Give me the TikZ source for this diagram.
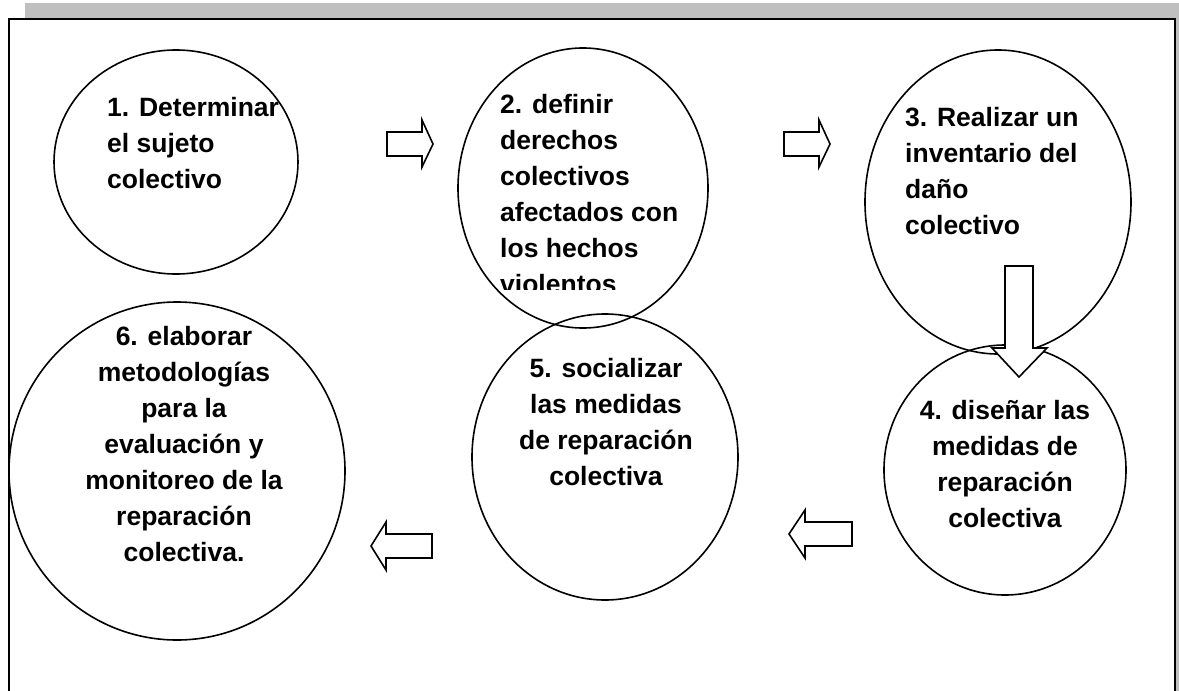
\documentclass[tikz,border=0pt]{standalone}
\usepackage{fontspec}
\setmainfont{Liberation Sans}
\usetikzlibrary{shapes.geometric}
\begin{document}
\begin{tikzpicture}[x=1pt,y=-1pt,
  oval/.style={draw=black,line width=1.6pt,ellipse,inner sep=0pt},
  blockarrow/.style={draw=black,fill=white,line width=1.6pt,line join=miter},
  lbl/.style={inner sep=0pt,font=\fontsize{26.5}{36}\selectfont\bfseries},
  frame/.style={draw=black,line width=1.8pt},
  shadow/.style={fill=black!25,draw=none}]
\useasboundingbox (0,0) rectangle (1179,691);
\fill[white] (0,0) rectangle (1179,691);
% shadow and frame
\fill[shadow] (25,3) rectangle (1179,18);
\fill[shadow] (1176,3) rectangle (1179,691);
\draw[frame] (9,700) -- (9,19) -- (1175,19) -- (1175,700);
% ellipses
\node[oval,minimum width=244pt,minimum height=224pt] (e1) at (176,162) {};
\node[oval,minimum width=250pt,minimum height=280pt] (e2) at (583,188) {};
\node[oval,minimum width=266pt,minimum height=304pt] (e3) at (998,202) {};
\node[oval,minimum width=242pt,minimum height=250pt] (e4) at (1005,470) {};
\node[oval,minimum width=266pt,minimum height=286pt] (e5) at (605,457) {};
\node[oval,minimum width=336pt,minimum height=338pt] (e6) at (177,471) {};
% texts
\node[lbl,align=left,anchor=north west] (t1) at (107,97) {1. Determinar\\el sujeto\\colectivo};
\begin{scope}
\clip (440,40) rectangle (720,289);
\node[lbl,align=left,anchor=north west] (t2) at (500,94) {2. definir\\derechos\\colectivos\\afectados con\\los hechos\\violentos};
\end{scope}
\node[lbl,align=left,anchor=north west] (t3) at (905,107) {3. Realizar un\\inventario del\\daño\\colectivo};
\node[lbl,align=center,anchor=north] (t4) at (1005,400) {4. diseñar las\\medidas de\\reparación\\colectiva};
\node[lbl,align=center,anchor=north] (t5) at (606,358) {5. socializar\\las medidas\\de reparación\\colectiva};
\node[lbl,align=center,anchor=north] (t6) at (184,326) {6. elaborar\\metodologías\\para la\\evaluación y\\monitoreo de la\\reparación\\colectiva.};
% block arrows
\draw[blockarrow] (387,132) -- (422,132) -- (422,120) -- (433,144) -- (422,167) -- (422,156) -- (387,156) -- cycle;
\draw[blockarrow] (784,132) -- (819,132) -- (819,120) -- (830,144) -- (819,167) -- (819,156) -- (784,156) -- cycle;
\draw[blockarrow] (1005,266) -- (1033,266) -- (1033,348) -- (1047,348) -- (1019,377) -- (992,348) -- (1005,348) -- cycle;
\draw[blockarrow] (852,522) -- (805,522) -- (805,510) -- (789,534) -- (805,558) -- (805,546) -- (852,546) -- cycle;
\draw[blockarrow] (432,534) -- (386,534) -- (386,522) -- (371,546) -- (386,570) -- (386,558) -- (432,558) -- cycle;
\end{tikzpicture}
\end{document}
